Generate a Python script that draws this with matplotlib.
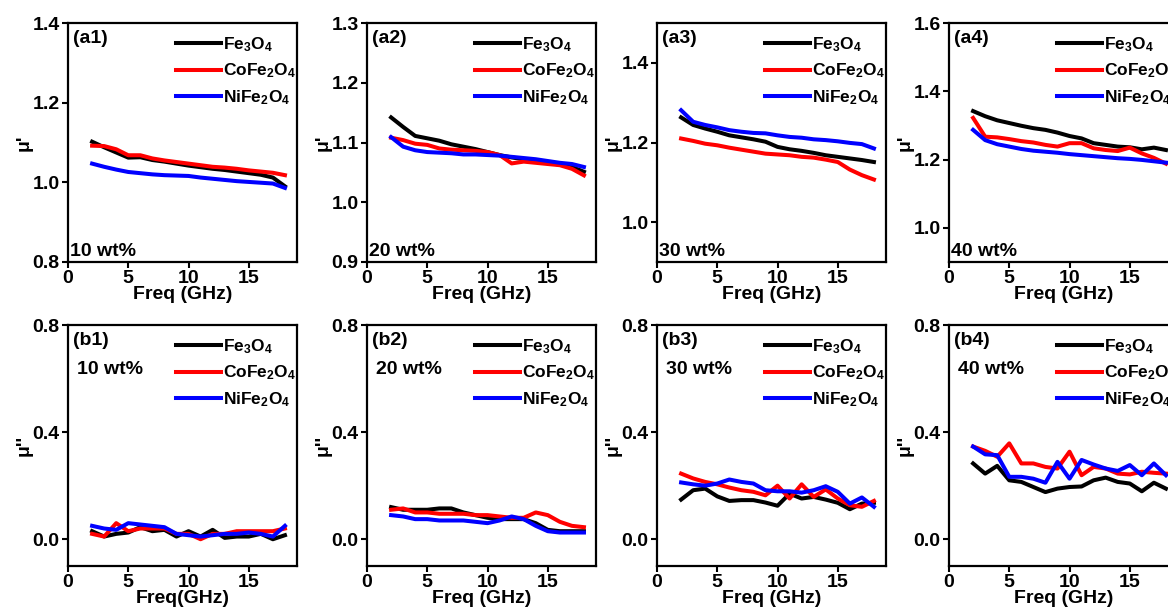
import numpy as np
import matplotlib
matplotlib.use('Agg')
import matplotlib.pyplot as plt

plt.rcParams['font.family'] = ['Liberation Sans', 'DejaVu Sans']
plt.rcParams['font.weight'] = 'bold'
plt.rcParams['mathtext.default'] = 'regular'

# 数据
freq = [2, 3, 4, 5, 6, 7, 8, 9, 10, 11, 12, 13, 14, 15, 16, 17, 18]
names = ['Fe$_3$O$_4$', 'CoFe$_2$O$_4$', 'NiFe$_2$O$_4$']
colors = ['black', 'red', 'blue']
wt_labels = ['10 wt%', '20 wt%', '30 wt%', '40 wt%']

# mu' 实部
mu_r_10 = [
    [1.102, 1.088, 1.075, 1.062, 1.063, 1.056, 1.052, 1.047, 1.042, 1.038, 1.034, 1.031, 1.027, 1.023, 1.019, 1.012, 0.990],
    [1.092, 1.091, 1.083, 1.068, 1.068, 1.060, 1.055, 1.051, 1.047, 1.043, 1.039, 1.037, 1.034, 1.030, 1.027, 1.024, 1.018],
    [1.047, 1.039, 1.032, 1.026, 1.023, 1.020, 1.018, 1.017, 1.016, 1.012, 1.009, 1.006, 1.003, 1.001, 0.999, 0.997, 0.986],
]
mu_r_20 = [
    [1.142, 1.126, 1.111, 1.107, 1.103, 1.097, 1.093, 1.089, 1.084, 1.079, 1.075, 1.072, 1.069, 1.066, 1.063, 1.059, 1.051],
    [1.108, 1.104, 1.098, 1.096, 1.090, 1.088, 1.087, 1.086, 1.084, 1.079, 1.065, 1.068, 1.066, 1.064, 1.062, 1.056, 1.045],
    [1.109, 1.093, 1.087, 1.084, 1.083, 1.082, 1.080, 1.080, 1.079, 1.078, 1.076, 1.074, 1.072, 1.069, 1.066, 1.064, 1.059],
]
mu_r_30 = [
    [1.263, 1.244, 1.235, 1.227, 1.218, 1.213, 1.208, 1.202, 1.189, 1.183, 1.179, 1.174, 1.168, 1.164, 1.160, 1.156, 1.151],
    [1.210, 1.204, 1.197, 1.193, 1.187, 1.182, 1.177, 1.172, 1.170, 1.168, 1.164, 1.162, 1.157, 1.151, 1.132, 1.118, 1.107],
    [1.281, 1.252, 1.244, 1.238, 1.231, 1.227, 1.224, 1.223, 1.218, 1.214, 1.212, 1.208, 1.206, 1.203, 1.199, 1.196, 1.185],
]
mu_r_40 = [
    [1.342, 1.327, 1.315, 1.307, 1.299, 1.292, 1.287, 1.279, 1.269, 1.262, 1.248, 1.243, 1.238, 1.236, 1.230, 1.235, 1.228],
    [1.322, 1.267, 1.265, 1.260, 1.254, 1.250, 1.243, 1.238, 1.248, 1.248, 1.233, 1.228, 1.225, 1.235, 1.218, 1.205, 1.188],
    [1.287, 1.257, 1.245, 1.238, 1.231, 1.226, 1.223, 1.220, 1.216, 1.213, 1.210, 1.207, 1.204, 1.202, 1.199, 1.195, 1.191],
]
# mu'' 虚部
mu_i_10 = [
    [0.030, 0.010, 0.020, 0.025, 0.045, 0.030, 0.035, 0.010, 0.030, 0.010, 0.035, 0.005, 0.010, 0.010, 0.020, 0.000, 0.015],
    [0.020, 0.010, 0.060, 0.030, 0.040, 0.040, 0.040, 0.020, 0.020, 0.000, 0.020, 0.020, 0.030, 0.030, 0.030, 0.030, 0.040],
    [0.050, 0.040, 0.035, 0.060, 0.055, 0.050, 0.045, 0.020, 0.015, 0.010, 0.015, 0.020, 0.020, 0.025, 0.020, 0.010, 0.050],
]
mu_i_20 = [
    [0.120, 0.110, 0.110, 0.110, 0.115, 0.115, 0.100, 0.090, 0.080, 0.075, 0.075, 0.075, 0.060, 0.035, 0.030, 0.030, 0.030],
    [0.110, 0.115, 0.100, 0.100, 0.095, 0.095, 0.095, 0.090, 0.090, 0.085, 0.080, 0.080, 0.100, 0.090, 0.065, 0.050, 0.045],
    [0.090, 0.085, 0.075, 0.075, 0.070, 0.070, 0.070, 0.065, 0.060, 0.070, 0.085, 0.075, 0.050, 0.030, 0.025, 0.025, 0.025],
]
mu_i_30 = [
    [0.148, 0.183, 0.189, 0.160, 0.143, 0.146, 0.146, 0.137, 0.125, 0.170, 0.152, 0.158, 0.148, 0.136, 0.112, 0.133, 0.136],
    [0.245, 0.227, 0.214, 0.205, 0.193, 0.183, 0.177, 0.164, 0.200, 0.152, 0.205, 0.158, 0.186, 0.152, 0.127, 0.121, 0.143],
    [0.212, 0.205, 0.200, 0.208, 0.223, 0.214, 0.208, 0.183, 0.179, 0.179, 0.174, 0.183, 0.198, 0.177, 0.133, 0.156, 0.121],
]
mu_i_40 = [
    [0.283, 0.245, 0.274, 0.220, 0.214, 0.195, 0.176, 0.189, 0.195, 0.197, 0.220, 0.230, 0.214, 0.208, 0.179, 0.211, 0.189],
    [0.346, 0.330, 0.308, 0.358, 0.283, 0.283, 0.270, 0.264, 0.327, 0.239, 0.270, 0.264, 0.245, 0.242, 0.252, 0.248, 0.245],
    [0.346, 0.317, 0.314, 0.233, 0.233, 0.226, 0.211, 0.289, 0.226, 0.296, 0.279, 0.264, 0.255, 0.277, 0.239, 0.283, 0.239],
]

mu_r_all = [mu_r_10, mu_r_20, mu_r_30, mu_r_40]
mu_i_all = [mu_i_10, mu_i_20, mu_i_30, mu_i_40]
ylim_top = [(0.8, 1.4), (0.9, 1.3), (0.9, 1.5), (0.9, 1.6)]
yticks_top = [np.arange(0.8, 1.41, 0.2), np.arange(0.9, 1.31, 0.1),
              np.arange(1.0, 1.41, 0.2), np.arange(1.0, 1.61, 0.2)]

W, H = 1168, 614
fig = plt.figure(figsize=(W / 100, H / 100), dpi=100)

lefts = [68, 367, 657, 949]
aw = 229
FS = 14


def style_ax(ax):
    for s in ax.spines.values():
        s.set_linewidth(1.6)
    ax.tick_params(direction='out', width=1.5, length=4, labelsize=FS, pad=2)
    for lab in ax.get_xticklabels() + ax.get_yticklabels():
        lab.set_fontweight('bold')
    ax.set_xlim(0, 19)
    ax.set_xticks([0, 5, 10, 15])


def add_legend(ax):
    leg = ax.legend(loc='upper right', frameon=False, fontsize=12.5, handlelength=2.6,
                    handletextpad=0.1, labelspacing=0.45, borderaxespad=0.3,
                    bbox_to_anchor=(1.05, 1.0))
    for t in leg.get_texts():
        t.set_fontweight('bold')


for i in range(4):
    # 上排 mu'
    ax = fig.add_axes([lefts[i] / W, 1 - 262 / H, aw / W, 239 / H])
    for k in range(3):
        ax.plot(freq, mu_r_all[i][k], color=colors[k], lw=2.9, label=names[k])
    ax.set_ylim(*ylim_top[i])
    ax.set_yticks(yticks_top[i])
    ax.yaxis.set_major_formatter(matplotlib.ticker.FormatStrFormatter('%.1f'))
    style_ax(ax)
    ax.set_xlabel('Freq (GHz)', fontsize=FS, fontweight='bold', labelpad=-1)
    ax.set_ylabel("μ'", fontsize=FS, fontweight='bold', labelpad=0)
    ax.text(0.02, 0.97, '(a%d)' % (i + 1), transform=ax.transAxes, fontsize=FS,
            fontweight='bold', va='top', ha='left')
    ax.text(0.01, 0.01, wt_labels[i], transform=ax.transAxes, fontsize=FS,
            fontweight='bold', va='bottom', ha='left')
    add_legend(ax)

    # 下排 mu''
    ax = fig.add_axes([lefts[i] / W, 1 - 566 / H, aw / W, 241 / H])
    for k in range(3):
        ax.plot(freq, mu_i_all[i][k], color=colors[k], lw=2.9, label=names[k])
    ax.set_ylim(-0.1, 0.8)
    ax.set_yticks([0.0, 0.4, 0.8])
    ax.yaxis.set_major_formatter(matplotlib.ticker.FormatStrFormatter('%.1f'))
    style_ax(ax)
    xl = 'Freq(GHz)' if i == 0 else 'Freq (GHz)'
    ax.set_xlabel(xl, fontsize=FS, fontweight='bold', labelpad=-1)
    ax.set_ylabel("μ''", fontsize=FS, fontweight='bold', labelpad=0)
    ax.text(0.02, 0.97, '(b%d)' % (i + 1), transform=ax.transAxes, fontsize=FS,
            fontweight='bold', va='top', ha='left')
    ax.text(0.04, 0.85, wt_labels[i], transform=ax.transAxes, fontsize=FS,
            fontweight='bold', va='top', ha='left')
    add_legend(ax)

plt.savefig('out.png', dpi=100)
